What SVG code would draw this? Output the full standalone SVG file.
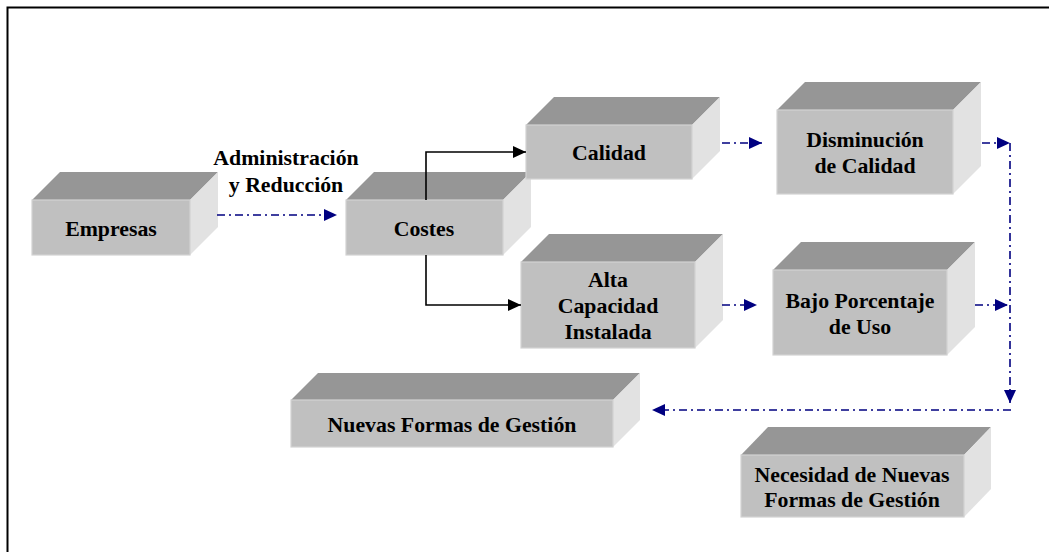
<svg xmlns="http://www.w3.org/2000/svg" width="1049" height="552" viewBox="0 0 1049 552">
  <style>
    .front { fill: #c0c0c0; stroke: #d2d2d2; stroke-width: 1.2; }
    .top { fill: #969696; }
    .side { fill: #e2e2e2; }
    .lbl { font-family: "Liberation Serif", "Times New Roman", serif; font-weight: bold; font-size: 21.8px; fill: #000; text-anchor: middle; }
    .dash { fill: none; stroke: #000080; stroke-width: 1.6; stroke-dasharray: 8 4 2 4; }
    .solid { fill: none; stroke: #000; stroke-width: 1.6; }
  </style>
  <defs>
    <marker id="headNavy" markerUnits="userSpaceOnUse" markerWidth="14" markerHeight="12" refX="13" refY="6" orient="auto">
      <path d="M0,0 L13,6 L0,12 Z" fill="#000080"/>
    </marker>
    <marker id="headBlack" markerUnits="userSpaceOnUse" markerWidth="14" markerHeight="12" refX="13" refY="6" orient="auto">
      <path d="M0,0 L13,6 L0,12 Z" fill="#000"/>
    </marker>
  </defs>

  <rect width="1049" height="552" fill="#fff"/>
  <!-- page frame -->
  <path d="M7.5,560 V7.5 H1060" fill="none" stroke="#000" stroke-width="2"/>

  <!-- 3-D boxes: top face, side face, front face -->
  <g id="empresas">
    <polygon class="top" points="32,200 60,172 218,172 190,200"/>
    <polygon class="side" points="190,200 218,172 218,227 190,255"/>
    <rect class="front" x="32" y="200" width="158" height="55"/>
    <text class="lbl" x="111" y="236">Empresas</text>
  </g>

  <g id="costes">
    <polygon class="top" points="346,200 374,172 531,172 503,200"/>
    <polygon class="side" points="503,200 531,172 531,227 503,255"/>
    <rect class="front" x="346" y="200" width="157" height="55"/>
    <text class="lbl" x="424" y="236">Costes</text>
  </g>

  <g id="calidad">
    <polygon class="top" points="526,125 554,97 720,97 692,125"/>
    <polygon class="side" points="692,125 720,97 720,151 692,179"/>
    <rect class="front" x="526" y="125" width="166" height="54"/>
    <text class="lbl" x="609" y="160">Calidad</text>
  </g>

  <g id="disminucion">
    <polygon class="top" points="777,110 805,82 981,82 953,110"/>
    <polygon class="side" points="953,110 981,82 981,166 953,194"/>
    <rect class="front" x="777" y="110" width="176" height="84"/>
    <text class="lbl" x="865" y="147">Disminución</text>
    <text class="lbl" x="865" y="173">de Calidad</text>
  </g>

  <g id="alta-capacidad">
    <polygon class="top" points="521,262 549,234 723,234 695,262"/>
    <polygon class="side" points="695,262 723,234 723,320 695,348"/>
    <rect class="front" x="521" y="262" width="174" height="86"/>
    <text class="lbl" x="608" y="287">Alta</text>
    <text class="lbl" x="608" y="313">Capacidad</text>
    <text class="lbl" x="608" y="339">Instalada</text>
  </g>

  <g id="bajo-porcentaje">
    <polygon class="top" points="773,270 801,242 975,242 947,270"/>
    <polygon class="side" points="947,270 975,242 975,327 947,355"/>
    <rect class="front" x="773" y="270" width="174" height="85"/>
    <text class="lbl" x="860" y="308">Bajo Porcentaje</text>
    <text class="lbl" x="860" y="334">de Uso</text>
  </g>

  <g id="nuevas-formas">
    <polygon class="top" points="291,400 318,373 640,373 613,400"/>
    <polygon class="side" points="613,400 640,373 640,420 613,447"/>
    <rect class="front" x="291" y="400" width="322" height="47"/>
    <text class="lbl" x="452" y="432">Nuevas Formas de Gestión</text>
  </g>

  <g id="necesidad">
    <polygon class="top" points="741,455 768,427 991,427 964,455"/>
    <polygon class="side" points="964,455 991,427 991,489 964,517"/>
    <rect class="front" x="741" y="455" width="223" height="62"/>
    <text class="lbl" x="852" y="482">Necesidad de Nuevas</text>
    <text class="lbl" x="852" y="507">Formas de Gestión</text>
  </g>

  <!-- edge label -->
  <g id="label-administracion">
    <text class="lbl" x="286" y="165">Administración</text>
    <text class="lbl" x="286" y="192">y Reducción</text>
  </g>

  <g id="connectors">
    <path class="dash" d="M217,215 H337" marker-end="url(#headNavy)"/>
    <path class="solid" d="M426,200 V152 H526" marker-end="url(#headBlack)"/>
    <path class="solid" d="M426,255 V305 H521" marker-end="url(#headBlack)"/>
    <path class="dash" d="M722,143 H762" marker-end="url(#headNavy)"/>
    <path class="dash" d="M982,143 H1010" marker-end="url(#headNavy)"/>
    <path class="dash" d="M1010,143 V403" marker-end="url(#headNavy)"/>
    <path class="dash" d="M722,305 H757" marker-end="url(#headNavy)"/>
    <path class="dash" d="M975,305 H1008" marker-end="url(#headNavy)"/>
    <path class="dash" d="M1011,410 H652" marker-end="url(#headNavy)"/>
  </g>
</svg>
